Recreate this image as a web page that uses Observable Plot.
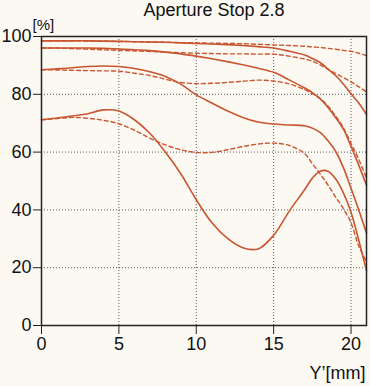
<!DOCTYPE html>
<html><head><meta charset="utf-8">
<script src="https://cdn.jsdelivr.net/npm/d3@7"></script>
<script src="https://cdn.jsdelivr.net/npm/@observablehq/plot@0.6"></script>
<style>
body{margin:0;background:#fcf9f3;font-family:"Liberation Sans",Arial,sans-serif;}
#wrap{width:370px;height:386px;position:relative;overflow:hidden;}
#title{position:relative;height:14px;}
#title span{position:absolute;left:0;width:428px;top:1px;text-align:center;font-size:18px;line-height:18px;color:#111;z-index:2;}
svg{overflow:visible;}
</style></head><body>
<div id="wrap"><div id="title"><span>Aperture Stop 2.8</span></div><div id="chart"></div></div>
<script>
const titleText = "Aperture Stop 2.8";
const yLabel = "[%]";
const xLabel = "Y’[mm]";
const xTicks = [0, 5, 10, 15, 20];
const yTicks = [0, 20, 40, 60, 80, 100];
// image height positions (mm)
const imgPos = [0,1,2,3,4,5,6,7,8,9,10,11,12,13,14,15,16,17,17.5,18,18.5,19,19.5,20,20.5,21];
// solid curves
const solid1 = [98.5,98.5,98.5,98.5,98.4,98.3,98.2,98.1,98.0,97.8,97.6,97.4,97.2,96.9,96.5,96.0,94.9,93.6,92.4,91.0,88.8,86.5,83.6,80.2,77.0,73.0];
const solid2 = [96.0,96.0,96.0,96.0,95.9,95.7,95.4,95.1,94.6,94.0,93.2,92.3,91.3,90.2,89.0,87.6,85.0,82.2,80.6,78.5,75.5,72.0,68.0,62.0,55.5,48.5];
const solid3 = [88.5,88.8,89.2,89.6,89.8,89.6,88.9,87.8,86.2,83.5,79.8,77.0,74.3,72.0,70.4,69.7,69.4,69.1,68.3,66.8,64.0,60.3,54.7,47.5,40.0,32.0];
const solid4 = [71.2,71.8,72.5,73.3,74.6,74.2,71.2,66.5,60.0,52.5,43.5,35.6,30.2,26.9,26.5,31.2,39.5,47.0,51.0,53.4,53.4,50.8,46.0,39.2,29.5,19.0];
// dashed curves
const dashed1 = [98.5,98.5,98.5,98.4,98.4,98.3,98.2,98.1,98.0,97.9,97.8,97.7,97.6,97.5,97.3,97.1,96.9,96.6,96.4,96.2,95.9,95.6,95.2,94.9,94.2,93.4];
const dashed2 = [96.0,96.0,95.8,95.6,95.4,95.2,95.0,94.8,94.6,94.4,94.2,94.1,94.0,94.0,93.9,93.9,93.2,92.2,91.5,90.2,88.7,87.2,85.8,84.3,82.6,80.8];
const dashed3 = [88.5,88.4,88.3,88.2,88.1,88.0,87.3,86.5,85.2,84.1,83.7,83.8,84.1,84.5,84.9,84.6,83.6,81.6,80.2,78.5,76.0,72.5,68.5,63.0,57.5,51.0];
const dashed4 = [71.2,71.6,72.0,71.7,71.0,69.8,67.6,64.8,62.5,60.8,59.9,59.9,60.8,61.9,62.8,63.1,62.3,59.5,56.0,52.5,48.7,44.5,40.5,35.5,27.5,22.0];

const solidSeries = {s1: solid1, s2: solid2, s3: solid3, s4: solid4};
const dashedSeries = {d1: dashed1, d2: dashed2, d3: dashed3, d4: dashed4};
function rows(obj) {
  const out = [];
  for (const [k, arr] of Object.entries(obj)) arr.forEach((v, i) => out.push({series: k, x: imgPos[i], y: v}));
  return out;
}
const solidRows = rows(solidSeries);
const dashedRows = rows(dashedSeries);
const col = "#c95530";

const chart = Plot.plot({
  width: 370, height: 372,
  marginLeft: 41, marginRight: 4, marginTop: 22, marginBottom: 61,
  style: {background: "transparent", fontFamily: "'Liberation Sans', Arial, sans-serif", fontSize: "18px", color: "#111"},
  x: {domain: [0, 21]},
  y: {domain: [0, 100]},
  marks: [
    Plot.gridX(xTicks.filter(d => d > 0), {stroke: "#555", strokeOpacity: 1, strokeWidth: 1, strokeDasharray: "1,2"}),
    Plot.gridY(yTicks.filter(d => d > 0 && d < 100), {stroke: "#555", strokeOpacity: 1, strokeWidth: 1, strokeDasharray: "1,2"}),
    Plot.line(dashedRows, {x: "x", y: "y", z: "series", stroke: col, strokeWidth: 1.4, strokeDasharray: "4,3", curve: "catmull-rom"}),
    Plot.line(solidRows, {x: "x", y: "y", z: "series", stroke: col, strokeWidth: 1.6, curve: "catmull-rom"}),
    Plot.frame({stroke: "#222", strokeWidth: 1.5}),
    Plot.axisX({ticks: xTicks, tickSize: 9, tickPadding: 3, label: null, stroke: "#222"}),
    Plot.axisY({ticks: yTicks, tickSize: 8, tickPadding: 2, label: null, stroke: "#222"}),
    Plot.text([yLabel], {frameAnchor: "top-left", dx: -9, dy: -7, text: d => d, textAnchor: "start", lineAnchor: "bottom", fontSize: 15, fill: "#111"}),
    Plot.text([xLabel], {frameAnchor: "bottom-right", dx: -1, dy: 53, text: d => d, textAnchor: "end", lineAnchor: "bottom", fontSize: 18, fill: "#111", letterSpacing: "1px"})
  ]
});
document.getElementById("chart").appendChild(chart);
</script>
</body></html>
